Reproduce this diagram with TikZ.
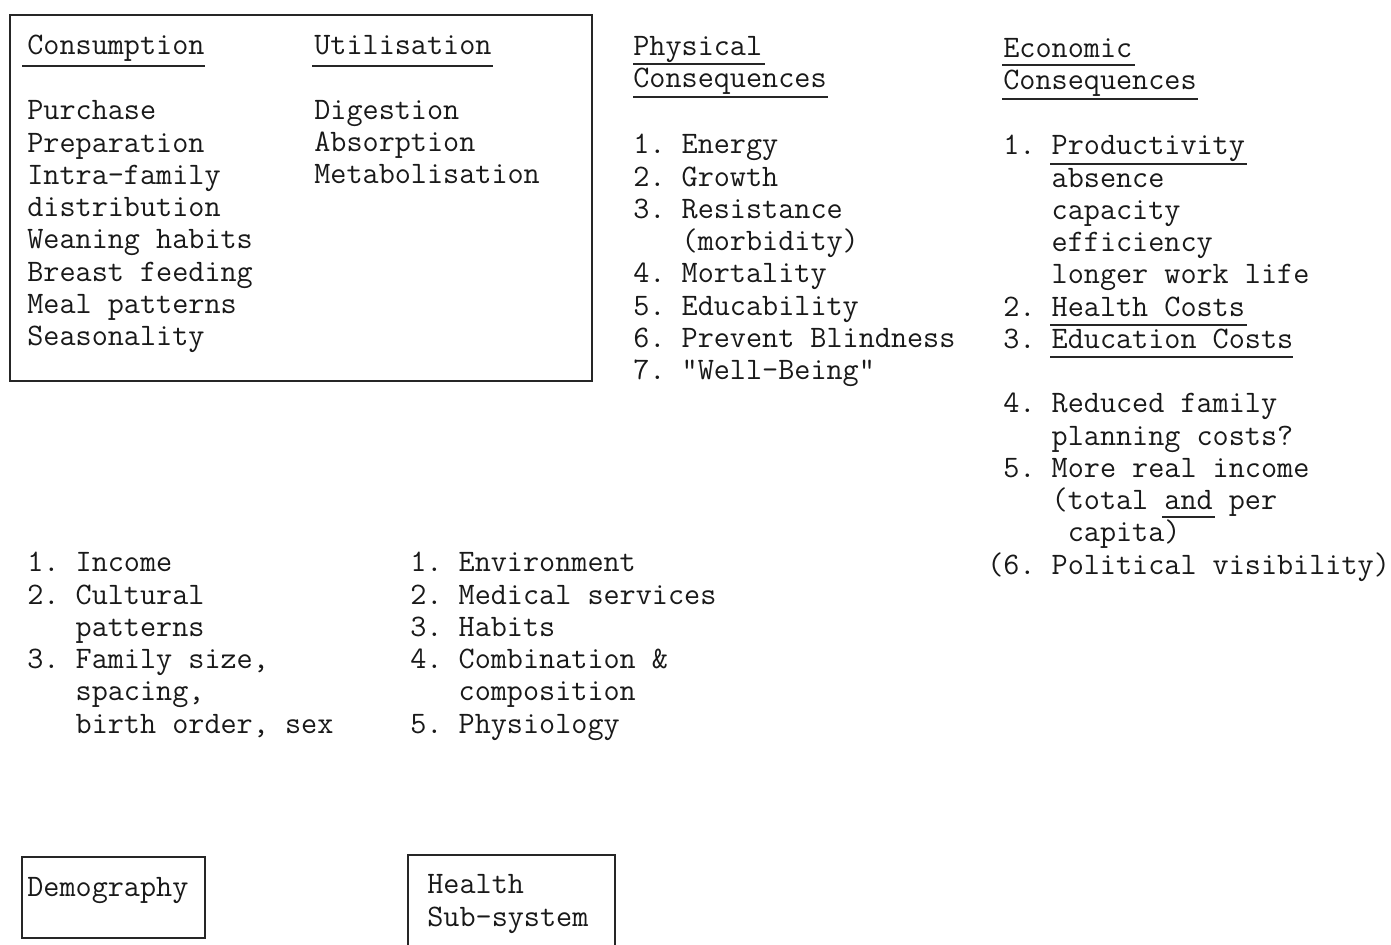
\documentclass[tikz,border=0pt]{standalone}
\usepackage{fontspec}
\usetikzlibrary{positioning}
\newcommand\pad{\hphantom{0.\ }}

\begin{document}
\begin{tikzpicture}[x=0.02cm,y=-0.02cm,
  tw/.style={font=\ttfamily\frenchspacing\fontsize{17.8}{18.35}\selectfont,text=black!90,inner sep=0pt,anchor=base west,align=left},
  rule/.style={black!85,line width=1.1pt},
  frame/.style={black!85,line width=1.3pt}]
\useasboundingbox (0,0) rectangle (1391,945);
% multi-line nodes are placed at the baseline of their last line

% food system box
\draw[frame] (10,15) rectangle (592,381);
\node[tw] (cons) at (27,55) {Consumption};
\node[tw] (util) at (314,55) {Utilisation};
\draw[rule] (22,66) -- (205,66);
\draw[rule] (312,66) -- (493,66);
\node[tw] (conslist) at (27,345.5) {Purchase\\Preparation\\Intra-family\\distribution\\Weaning habits\\Breast feeding\\Meal patterns\\Seasonality};
\node[tw] (utillist) at (314,183.7) {Digestion\\Absorption\\Metabolisation};

% physical consequences
\node[tw] (phys) at (633,87.5) {Physical\\Consequences};
\draw[rule] (633,64) -- (765,64);
\draw[rule] (633,97) -- (828,97);
\node[tw] (physlist) at (633,379.5) {1. Energy\\2. Growth\\3. Resistance\\\pad(morbidity)\\4. Mortality\\5. Educability\\6. Prevent Blindness\\7. "Well-Being"};

% economic consequences
\node[tw] (econ) at (1003,89.5) {Economic\\Consequences};
\draw[rule] (1002,65) -- (1135,65);
\draw[rule] (1002,99) -- (1198,99);
\node[tw] (econlist) at (1003,574) {1. Productivity\\\pad absence\\\pad capacity\\\pad efficiency\\\pad longer work life\\2. Health Costs\\3. Education Costs\\[18.35pt]4. Reduced family\\\pad planning costs?\\5. More real income\\\pad(total and per\\\pad\ capita)\\\llap{(}6. Political visibility)};
\draw[rule] (1050,164) -- (1247,164);
\draw[rule] (1050,325) -- (1247,325);
\draw[rule] (1050,357) -- (1293,357);
\draw[rule] (1162,517) -- (1215,517);

% demography and health factors
\node[tw] (demlist) at (27,733) {1. Income\\2. Cultural\\\pad patterns\\3. Family size,\\\pad spacing,\\\pad birth order, sex};
\node[tw] (hlthlist) at (410,733) {1. Environment\\2. Medical services\\3. Habits\\4. Combination \&\\\pad composition\\5. Physiology};

% sub-system boxes
\draw[frame] (22,857) rectangle (205,938);
\node[tw] (demog) at (27,896) {Demography};
\draw[frame] (408,945) |- (615,855) -- (615,945);
\node[tw] (hlth) at (427,926) {Health\\Sub-system};

\end{tikzpicture}
\end{document}
